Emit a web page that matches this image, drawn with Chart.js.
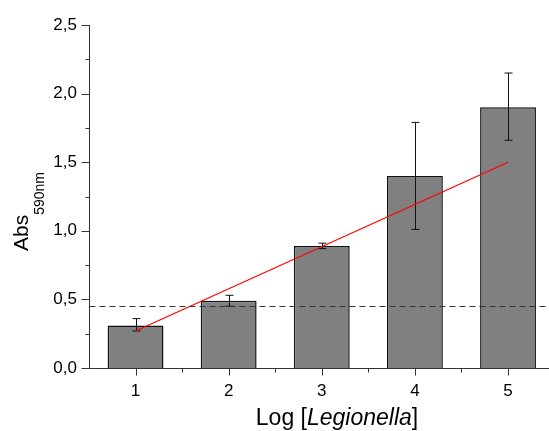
<!DOCTYPE html>
<html>
<head>
<meta charset="utf-8">
<script src="https://cdn.jsdelivr.net/npm/chart.js@4"></script>
<style>
  html, body { margin: 0; padding: 0; background: #fff; }
</style>
</head>
<body>
<canvas id="chart" width="549" height="431"></canvas>
<script>
// values
const doses   = [1, 2, 3, 4, 5];
const absMean = [0.31, 0.49, 0.89, 1.40, 1.90];
const errLow  = [0.27, 0.45, 0.87, 1.01, 1.66];
const errHigh = [0.36, 0.53, 0.91, 1.79, 2.15];
const fitX    = [1, 5];
const fitY    = [0.27, 1.50];
const cutoff  = 0.45;
const yTicks  = [0, 0.5, 1.0, 1.5, 2.0, 2.5];

const FONT = "'Liberation Sans', Arial, sans-serif";
const AXIS = '#333';

// error bars, drawn right after the bars
const errorBars = {
  id: 'errorBars',
  afterDatasetDraw(chart, args) {
    if (args.meta.type !== 'bar') return;
    const ctx = chart.ctx, x = chart.scales.x, y = chart.scales.y;
    ctx.save();
    ctx.strokeStyle = '#111';
    ctx.lineWidth = 1;
    doses.forEach((d, i) => {
      const px = Math.round(x.getPixelForValue(d)) + 0.5;
      const top = y.getPixelForValue(errHigh[i]);
      const bot = y.getPixelForValue(errLow[i]);
      ctx.beginPath();
      ctx.moveTo(px, top); ctx.lineTo(px, bot);
      ctx.moveTo(px - 4, top); ctx.lineTo(px + 4, top);
      ctx.moveTo(px - 4, bot); ctx.lineTo(px + 4, bot);
      ctx.stroke();
    });
    ctx.restore();
  }
};

// axes, ticks, cutoff line and axis titles
const frame = {
  id: 'frame',
  afterDraw(chart) {
    const ctx = chart.ctx, x = chart.scales.x, y = chart.scales.y;
    const area = chart.chartArea;
    const L = Math.round(area.left) + 0.5, B = Math.round(area.bottom) + 0.5;
    ctx.save();

    // cutoff (dashed)
    const cy = Math.round(y.getPixelForValue(cutoff)) + 0.5;
    ctx.strokeStyle = '#333';
    ctx.lineWidth = 1;
    ctx.setLineDash([6, 4]);
    ctx.beginPath();
    ctx.moveTo(L, cy); ctx.lineTo(chart.width, cy);
    ctx.stroke();
    ctx.setLineDash([]);

    // axis lines
    ctx.strokeStyle = AXIS;
    ctx.beginPath();
    ctx.moveTo(L, Math.round(area.top)); ctx.lineTo(L, B);
    ctx.lineTo(chart.width, B);
    ctx.stroke();

    // y ticks (major + minor)
    ctx.beginPath();
    yTicks.forEach((v, i) => {
      const py = Math.round(y.getPixelForValue(v)) + 0.5;
      ctx.moveTo(L - 8, py); ctx.lineTo(L, py);
      if (i < yTicks.length - 1) {
        const pm = Math.round(y.getPixelForValue((v + yTicks[i + 1]) / 2)) + 0.5;
        ctx.moveTo(L - 4, pm); ctx.lineTo(L, pm);
      }
    });
    // x ticks (major + minor)
    doses.forEach(d => {
      const px = Math.round(x.getPixelForValue(d)) + 0.5;
      ctx.moveTo(px, B); ctx.lineTo(px, B + 7);
      const pm = Math.round(x.getPixelForValue(d + 0.5)) + 0.5;
      if (pm < chart.width) { ctx.moveTo(pm, B); ctx.lineTo(pm, B + 4); }
    });
    ctx.stroke();

    // x title: Log [Legionella]
    ctx.fillStyle = '#000';
    ctx.textBaseline = 'alphabetic';
    const parts = [['Log [', 'normal'], ['Legionella', 'italic'], [']', 'normal']];
    const fs = 23;
    let total = 0;
    parts.forEach(p => { ctx.font = p[1] + ' ' + fs + 'px ' + FONT; total += ctx.measureText(p[0]).width; });
    let tx = 337 - total / 2;
    parts.forEach(p => {
      ctx.font = p[1] + ' ' + fs + 'px ' + FONT;
      ctx.fillText(p[0], tx, 425);
      tx += ctx.measureText(p[0]).width;
    });

    // y title: Abs with 590nm subscript, rotated
    ctx.translate(28, 251);
    ctx.rotate(-Math.PI / 2);
    ctx.font = '21px ' + FONT;
    ctx.fillText('Abs', 0, 0);
    const w = ctx.measureText('Abs').width;
    ctx.font = '14px ' + FONT;
    ctx.fillText('590nm', w, 16);
    ctx.restore();
  }
};

new Chart(document.getElementById('chart'), {
  data: {
    datasets: [
      {
        type: 'line',
        data: fitX.map((v, i) => ({ x: v, y: fitY[i] })),
        borderColor: '#ff0000',
        borderWidth: 1.2,
        pointRadius: 0,
        tension: 0
      },
      {
        type: 'bar',
        data: doses.map((v, i) => ({ x: v, y: absMean[i] })),
        backgroundColor: '#808080',
        borderColor: '#111',
        borderWidth: 1.5,
        categoryPercentage: 1,
        barPercentage: 0.6
      }
    ]
  },
  options: {
    responsive: false,
    animation: false,
    layout: { padding: { top: 25, right: 0, left: 0, bottom: 0 } },
    plugins: { legend: { display: false }, tooltip: { enabled: false } },
    scales: {
      x: {
        type: 'linear',
        offset: false,
        min: 0.5,
        max: 5.44,
        grid: { display: false, drawTicks: false, offset: false },
        border: { display: false },
        afterBuildTicks: s => { s.ticks = doses.map(v => ({ value: v })); },
        afterFit: s => { s.height = 63; },
        ticks: {
          padding: 13,
          color: '#000',
          font: { family: FONT, size: 17 },
          maxRotation: 0,
          callback: v => String(v)
        }
      },
      y: {
        min: 0,
        max: 2.5,
        grid: { display: false, drawTicks: false },
        border: { display: false },
        afterBuildTicks: s => { s.ticks = yTicks.map(v => ({ value: v })); },
        afterFit: s => { s.width = 89; },
        ticks: {
          padding: 12,
          color: '#000',
          font: { family: FONT, size: 17 },
          callback: v => v.toFixed(1).replace('.', ',')
        }
      }
    }
  },
  plugins: [errorBars, frame]
});
</script>
</body>
</html>
